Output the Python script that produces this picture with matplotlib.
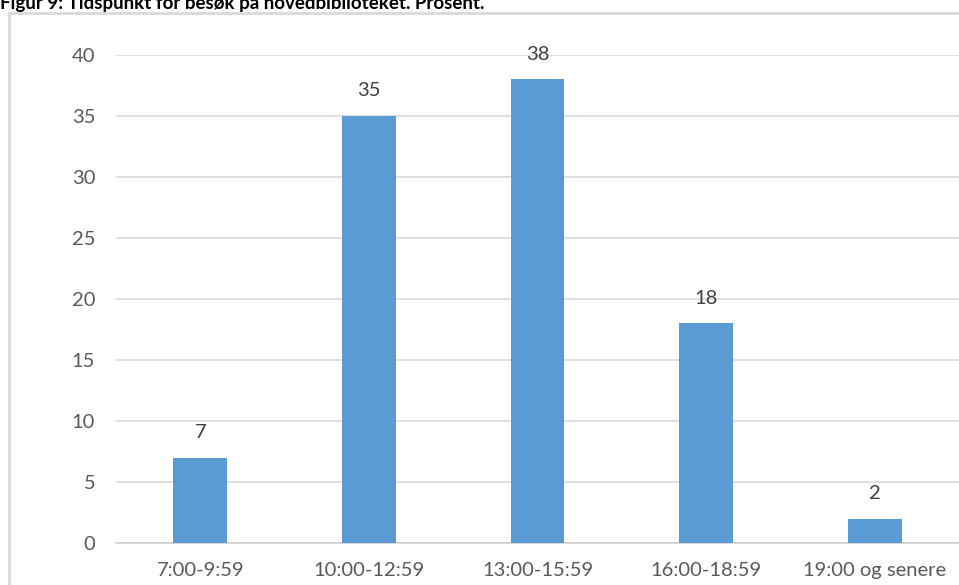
import matplotlib.pyplot as plt
from matplotlib.patches import Rectangle

tidspunkt = ['7:00-9:59', '10:00-12:59', '13:00-15:59', '16:00-18:59', '19:00 og senere']
prosent = [7, 35, 38, 18, 2]
yticks = [0, 5, 10, 15, 20, 25, 30, 35, 40]
tittel = 'Figur 9: Tidspunkt for besøk på hovedbiblioteket. Prosent.'

plt.rcParams['font.family'] = ['Lato', 'DejaVu Sans']

fig = plt.figure(figsize=(9.59, 5.85), dpi=100)
ax = fig.add_axes([116/959, 1-543/585, 1-116/959, (543-55)/585])

# ramme rundt diagrammet (kuttet i toppen og til høyre)
fig.patches.append(Rectangle((9/959, -0.1), 1.2, 1.1 - 13/585, transform=fig.transFigure,
                             fill=False, edgecolor='#d9d9d9', linewidth=2, zorder=0))
fig.text(0.0, 1 - 9/585, tittel, fontsize=13.5, fontweight='bold', color='black',
         ha='left', va='baseline')

x = range(len(tidspunkt))
bars = ax.bar(x, prosent, width=0.32, color='#5B9BD5', zorder=3)
for b, v in zip(bars, prosent):
    ax.annotate(str(v), (b.get_x() + b.get_width()/2, v), xytext=(0, 12),
                textcoords='offset points', ha='center', va='bottom',
                fontsize=14.5, color='#404040')

ax.set_xlim(-0.5, len(tidspunkt) - 0.5)
ax.set_ylim(0, 40)
ax.set_yticks(yticks)
ax.set_xticks(list(x))
ax.set_xticklabels(tidspunkt)
ax.grid(axis='y', color='#d9d9d9', linewidth=1.2, zorder=0)
for s in ['top', 'right', 'left']:
    ax.spines[s].set_visible(False)
ax.spines['bottom'].set_color('#d0d0d0')
ax.spines['bottom'].set_linewidth(1.2)
ax.tick_params(axis='both', length=0, labelsize=14.5, labelcolor='#595959')
ax.tick_params(axis='y', pad=15)
ax.tick_params(axis='x', pad=14)
ax.set_facecolor('none')

fig.savefig('out.png', dpi=100)
